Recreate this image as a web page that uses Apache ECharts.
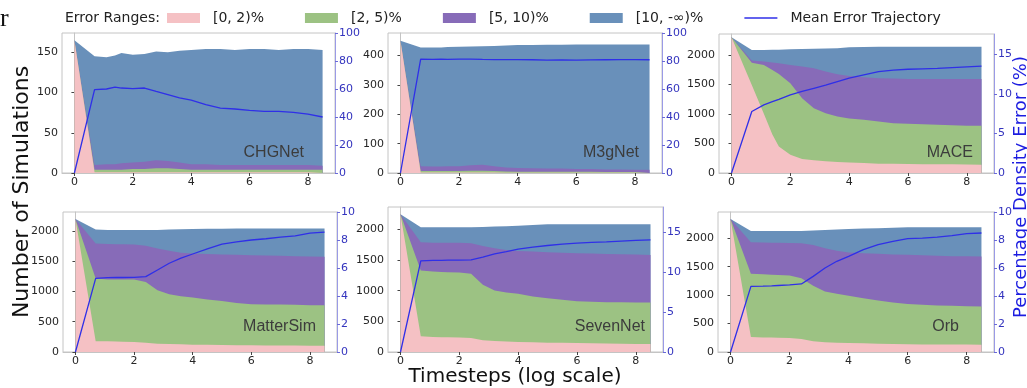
<!DOCTYPE html>
<html>
<head>
<meta charset="utf-8">
<script src="https://cdn.jsdelivr.net/npm/echarts@6/dist/echarts.min.js"></script>
<style>
html, body { margin: 0; padding: 0; background: #fff; }
#myChart { width: 1027px; height: 388px; }
</style>
</head>
<body>
<div id="myChart"></div>
<script>
// log(timestep) samples shared by every panel
var steps = [0, 0.69, 1.1, 1.39, 1.61, 2.0, 2.4, 2.8, 3.2, 3.6, 4.0, 4.5, 5.0, 5.5, 6.0, 6.5, 7.0, 7.5, 8.0, 8.5];

var bandNames = ['[0, 2)%', '[2, 5)%', '[5, 10)%', '[10, -\u221e)%'];
var lineName = 'Mean Error Trajectory';
var xTicks = [0, 2, 4, 6, 8];

// CHGNet
var chgnet_0_2 = [165, 1, 1, 1, 1, 1, 1, 1, 1, 1, 1, 1, 1, 1, 1, 1, 1, 1, 1, 1];
var chgnet_2_5 = [0, 3, 3, 3, 3, 4, 4, 5, 5, 4, 3, 3, 3, 3, 3, 3, 3, 3, 3, 3];
var chgnet_5_10 = [0, 6, 7, 7, 8, 8, 9, 10, 9, 8, 7, 7, 6, 6, 6, 6, 6, 6, 6, 5];
var chgnet_10_inf = [0, 135, 133, 135, 137, 134, 134, 135, 135, 139, 142, 143, 144, 143, 144, 144, 143, 144, 144, 144];
var chgnet_mean = [0, 59.5, 60, 61.4, 60.7, 60.2, 60.7, 58.3, 56, 53.6, 52, 48.8, 46.4, 45.7, 44.8, 44, 44, 43.3, 42, 40];

// M3gNet
var m3gnet_0_2 = [451, 2, 2, 2, 2, 2, 2, 2, 2, 1, 1, 1, 1, 1, 1, 1, 1, 1, 1, 1];
var m3gnet_2_5 = [0, 5, 5, 5, 5, 5, 6, 6, 5, 4, 3, 3, 3, 3, 3, 3, 2, 2, 2, 2];
var m3gnet_5_10 = [0, 16, 15, 15, 16, 16, 18, 20, 16, 14, 13, 12, 11, 11, 10, 10, 9, 9, 8, 8];
var m3gnet_10_inf = [0, 405, 406, 406, 406, 407, 405, 404, 410, 415, 419, 420, 422, 422, 424, 424, 426, 426, 427, 427];
var m3gnet_mean = [0, 81.4, 81.2, 81.3, 81.2, 81.4, 81.3, 81.1, 81.0, 81.0, 81.0, 80.9, 80.6, 80.8, 80.6, 80.8, 80.9, 81.0, 81.0, 80.9];

// MACE
var mace_0_2 = [2300, 1490, 1003, 654, 450, 310, 237, 214, 197, 186, 180, 169, 158, 155, 152, 150, 150, 147, 143, 141];
var mace_2_5 = [0, 380, 828, 1092, 1229, 1211, 1031, 885, 817, 772, 744, 732, 715, 690, 682, 675, 667, 663, 657, 659];
var mace_5_10 = [0, 34, 56, 127, 180, 310, 535, 676, 704, 715, 721, 721, 733, 755, 760, 769, 777, 784, 794, 794];
var mace_10_inf = [0, 181, 198, 215, 231, 265, 297, 330, 392, 442, 485, 513, 535, 541, 547, 547, 547, 547, 547, 547];
var mace_mean = [0, 7.77, 8.6, 9.0, 9.3, 9.87, 10.3, 10.7, 11.1, 11.55, 11.97, 12.4, 12.8, 13.0, 13.1, 13.15, 13.2, 13.3, 13.4, 13.5];

// MatterSim
var mattersim_0_2 = [2193, 176, 176, 172, 170, 165, 154, 138, 132, 127, 121, 118, 116, 113, 110, 108, 107, 106, 105, 105];
var mattersim_2_5 = [0, 1036, 1020, 1024, 1026, 1031, 1003, 881, 821, 793, 777, 747, 727, 697, 678, 677, 675, 672, 668, 666];
var mattersim_5_10 = [0, 578, 584, 582, 580, 578, 595, 689, 717, 716, 727, 752, 766, 793, 810, 807, 805, 802, 802, 799];
var mattersim_10_inf = [0, 232, 231, 233, 235, 237, 259, 307, 350, 388, 403, 415, 426, 434, 441, 447, 452, 459, 464, 469];
var mattersim_mean = [0, 5.26, 5.31, 5.32, 5.32, 5.33, 5.38, 5.86, 6.34, 6.7, 7.0, 7.37, 7.7, 7.87, 8.0, 8.09, 8.2, 8.3, 8.49, 8.56];

// SevenNet
var sevennet_0_2 = [2244, 255, 244, 242, 240, 238, 228, 190, 179, 170, 163, 157, 152, 149, 146, 142, 138, 135, 132, 130];
var sevennet_2_5 = [0, 1073, 1068, 1063, 1060, 1057, 1046, 905, 824, 800, 785, 748, 726, 702, 683, 678, 675, 675, 676, 678];
var sevennet_5_10 = [0, 461, 471, 478, 483, 488, 498, 634, 688, 694, 700, 732, 748, 767, 781, 785, 786, 783, 780, 775];
var sevennet_10_inf = [0, 244, 250, 250, 250, 250, 261, 307, 354, 388, 412, 433, 455, 463, 471, 476, 482, 488, 493, 498];
var sevennet_mean = [0, 11.45, 11.5, 11.5, 11.52, 11.53, 11.57, 11.9, 12.33, 12.6, 12.9, 13.16, 13.37, 13.54, 13.66, 13.75, 13.83, 13.92, 14.0, 14.08];

// Orb
var orb_0_2 = [2339, 263, 257, 253, 250, 246, 228, 187, 170, 163, 158, 152, 146, 140, 135, 133, 132, 131, 130, 129];
var orb_2_5 = [0, 1111, 1111, 1107, 1105, 1099, 1070, 977, 894, 860, 830, 795, 760, 731, 707, 697, 687, 681, 675, 672];
var orb_5_10 = [0, 556, 556, 562, 565, 571, 614, 719, 761, 755, 761, 790, 819, 845, 866, 869, 871, 873, 876, 877];
var orb_10_inf = [0, 199, 205, 207, 209, 213, 217, 252, 320, 377, 415, 433, 450, 468, 485, 494, 503, 508, 512, 515];
var orb_mean = [0, 4.69, 4.71, 4.73, 4.75, 4.79, 4.86, 5.4, 6.0, 6.48, 6.83, 7.31, 7.67, 7.9, 8.1, 8.14, 8.2, 8.31, 8.45, 8.5];

var bandColors = ['#F5C1C4', '#9CC283', '#876BB8', '#6990BA'];
var lineColor = '#2F2FE8';
var rightColor = '#3434BE';
var tickColor = '#262626';

var panels = [
	{ model: 'CHGNet', bands: [chgnet_0_2, chgnet_2_5, chgnet_5_10, chgnet_10_inf], mean: chgnet_mean,
	  yMax: 174, yTicks: [0, 50, 100, 150], rMax: 100, rTicks: [0, 20, 40, 60, 80, 100],
	  box: [62, 33, 273, 140], tag: [304, 153] },
	{ model: 'M3gNet', bands: [m3gnet_0_2, m3gnet_2_5, m3gnet_5_10, m3gnet_10_inf], mean: m3gnet_mean,
	  yMax: 477, yTicks: [0, 100, 200, 300, 400], rMax: 100, rTicks: [0, 20, 40, 60, 80, 100],
	  box: [388, 33, 274, 140], tag: [639, 153] },
	{ model: 'MACE', bands: [mace_0_2, mace_2_5, mace_5_10, mace_10_inf], mean: mace_mean,
	  yMax: 2355, yTicks: [0, 500, 1000, 1500, 2000], rMax: 17.55, rTicks: [0, 5, 10, 15],
	  box: [719, 34, 275, 139], tag: [973, 153] },
	{ model: 'MatterSim', bands: [mattersim_0_2, mattersim_2_5, mattersim_5_10, mattersim_10_inf], mean: mattersim_mean,
	  yMax: 2310, yTicks: [0, 500, 1000, 1500, 2000], rMax: 10, rTicks: [0, 2, 4, 6, 8, 10],
	  box: [63, 212, 274, 140], tag: [316, 327] },
	{ model: 'SevenNet', bands: [sevennet_0_2, sevennet_2_5, sevennet_5_10, sevennet_10_inf], mean: sevennet_mean,
	  yMax: 2364, yTicks: [0, 500, 1000, 1500, 2000], rMax: 18.2, rTicks: [0, 5, 10, 15],
	  box: [388, 207, 275, 145], tag: [645, 327] },
	{ model: 'Orb', bands: [orb_0_2, orb_2_5, orb_5_10, orb_10_inf], mean: orb_mean,
	  yMax: 2461, yTicks: [0, 500, 1000, 1500, 2000], rMax: 10, rTicks: [0, 2, 4, 6, 8, 10],
	  box: [718, 212, 276, 140], tag: [959, 327] }
];

function pairs(vals) {
	return steps.map(function (x, j) { return [x, vals[j]]; });
}

// running totals of the bands, so each band's top edge can be filled down to zero
function cumulative(bands) {
	var out = [];
	bands.forEach(function (vals, k) {
		out.push(vals.map(function (v, j) { return k ? out[k - 1][j] + v : v; }));
	});
	return out;
}

function plain(v) { return String(v); }

var grids = [], xAxes = [], yAxes = [], series = [];
var graphics = [
	{ type: 'text', left: 0, top: 6, style: { text: 'r', font: '26px "Liberation Serif"', fill: '#111' } },
	{ type: 'text', x: 65, y: 18, style: { text: 'Error Ranges:', font: '14px "DejaVu Sans"', fill: '#222', textVerticalAlign: 'middle' } },
	{ type: 'text', x: 22, y: 192, rotation: Math.PI / 2,
	  style: { text: 'Number of Simulations', font: '22px "DejaVu Sans"', fill: '#111', textAlign: 'center', textVerticalAlign: 'middle' } },
	{ type: 'text', x: 515, y: 377,
	  style: { text: 'Timesteps (log scale)', font: '20px "DejaVu Sans"', fill: '#111', textAlign: 'center', textVerticalAlign: 'middle' } },
	{ type: 'text', x: 1021, y: 187, rotation: Math.PI / 2,
	  style: { text: 'Percentage Density Error (%)', font: '18px "DejaVu Sans"', fill: '#1C1CE0', textAlign: 'center', textVerticalAlign: 'middle' } }
];

panels.forEach(function (p, i) {
	grids.push({
		left: p.box[0], top: p.box[1], width: p.box[2], height: p.box[3],
		show: true, borderColor: '#C4C4C4', borderWidth: 1, containLabel: false
	});
	xAxes.push({
		type: 'value', gridIndex: i, min: -0.425, max: 8.925,
		axisLine: { show: true, onZero: false, lineStyle: { color: '#C4C4C4' } },
		axisTick: { show: true, length: 3, customValues: xTicks, lineStyle: { color: '#444' } },
		axisLabel: { customValues: xTicks, color: tickColor, fontSize: 11, fontFamily: 'DejaVu Sans', margin: 4, formatter: plain },
		splitLine: { show: false }
	});
	yAxes.push({
		type: 'value', gridIndex: i, position: 'left', min: 0, max: p.yMax,
		axisLine: { show: true, lineStyle: { color: '#C4C4C4' } },
		axisTick: { show: true, length: 3, customValues: p.yTicks, lineStyle: { color: '#444' } },
		axisLabel: { customValues: p.yTicks, color: tickColor, fontSize: 11, fontFamily: 'DejaVu Sans', margin: 4, formatter: plain },
		splitLine: { show: false }
	});
	yAxes.push({
		type: 'value', gridIndex: i, position: 'right', min: 0, max: p.rMax,
		axisLine: { show: true, lineStyle: { color: '#9A9AE6' } },
		axisTick: { show: true, length: 3, customValues: p.rTicks, lineStyle: { color: '#6A6AD8' } },
		axisLabel: { customValues: p.rTicks, color: rightColor, fontSize: 11, fontFamily: 'DejaVu Sans', margin: 4, formatter: plain },
		splitLine: { show: false }
	});
	var tops = cumulative(p.bands);
	// widest band first, narrower ones painted over it
	for (var k = tops.length - 1; k >= 0; k--) {
		series.push({
			type: 'line', name: bandNames[k], xAxisIndex: i, yAxisIndex: 2 * i,
			data: pairs(tops[k]), symbol: 'none', z: 2,
			lineStyle: { width: 0 },
			areaStyle: { color: bandColors[k], opacity: 1 },
			itemStyle: { color: bandColors[k] },
			silent: true
		});
	}
	series.push({
		type: 'line', name: lineName, xAxisIndex: i, yAxisIndex: 2 * i + 1,
		data: pairs(p.mean), symbol: 'none', z: 5,
		lineStyle: { color: lineColor, width: 1.3 },
		itemStyle: { color: lineColor }
	});
	graphics.push({
		type: 'text', x: p.tag[0], y: p.tag[1],
		style: { text: p.model, font: '16px "Liberation Sans"', fill: '#3C3C3C', textAlign: 'right', textVerticalAlign: 'middle' },
		z: 10
	});
});

var legendData = bandNames.map(function (n) { return { name: n, icon: 'rect' }; });
legendData.push({ name: lineName, icon: 'path://M0,0L33,0L33,1.7L0,1.7Z' });

var option = {
	animation: false,
	backgroundColor: '#fff',
	legend: {
		left: 167, top: 11, padding: 0, itemWidth: 33, itemHeight: 10, itemGap: 41,
		selectedMode: false, data: legendData,
		textStyle: { fontFamily: 'DejaVu Sans', fontSize: 14, color: '#222', padding: [0, 0, 0, 8] }
	},
	grid: grids,
	xAxis: xAxes,
	yAxis: yAxes,
	series: series,
	graphic: graphics
};

var myChart = echarts.init(document.getElementById('myChart'));
myChart.setOption(option);
</script>
</body>
</html>
